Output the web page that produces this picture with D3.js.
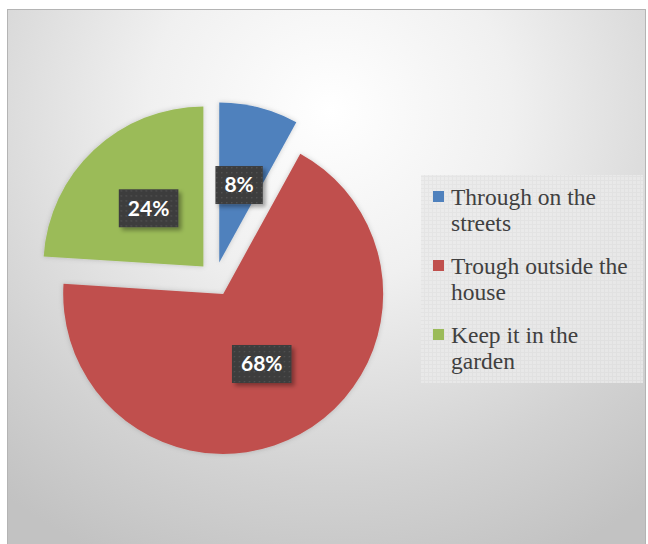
<!DOCTYPE html>
<html>
<head>
<meta charset="utf-8">
<script src="https://cdn.jsdelivr.net/npm/d3@7"></script>
<style>
  html, body { margin: 0; padding: 0; background: #ffffff; }
  svg { display: block; }
</style>
</head>
<body>
<svg id="chart" width="648" height="544"></svg>
<script>
// Where the waste goes
const categories = ["Through on the streets", "Trough outside the house", "Keep it in the garden"];
const shares = [8, 68, 24];
const legendLines = [["Through on the", "streets"], ["Trough outside the", "house"], ["Keep it in the", "garden"]];
const colors = ["#4f81bd", "#c0504d", "#9bbb59"];

const svg = d3.select("#chart");
const defs = svg.append("defs");

// Soft radial backdrop
const bg = defs.append("radialGradient").attr("id", "bgGrad")
  .attr("gradientUnits", "userSpaceOnUse")
  .attr("cx", 330).attr("cy", 110).attr("r", 520)
  .attr("gradientTransform", "translate(330,110) scale(1,0.95) translate(-330,-110)");
bg.append("stop").attr("offset", 0).attr("stop-color", "#ffffff");
bg.append("stop").attr("offset", 0.35).attr("stop-color", "#f0f0f0");
bg.append("stop").attr("offset", 0.75).attr("stop-color", "#d2d2d2");
bg.append("stop").attr("offset", 1).attr("stop-color", "#c2c2c2");

// Dotted texture for the data labels
const dots = defs.append("pattern").attr("id", "dots")
  .attr("patternUnits", "userSpaceOnUse").attr("width", 5).attr("height", 5);
dots.append("rect").attr("width", 5).attr("height", 5).attr("fill", "#3d3d3d");
dots.append("rect").attr("x", 2).attr("y", 2).attr("width", 1.3).attr("height", 1.3).attr("fill", "#555555");

// Fine grid texture for the legend panel
const grid = defs.append("pattern").attr("id", "grid")
  .attr("patternUnits", "userSpaceOnUse").attr("width", 4).attr("height", 4);
grid.append("rect").attr("width", 4).attr("height", 4).attr("fill", "#eaeaea");
grid.append("rect").attr("width", 4).attr("height", 1).attr("fill", "#e2e2e2");
grid.append("rect").attr("width", 1).attr("height", 4).attr("fill", "#e2e2e2");

const shadow = defs.append("filter").attr("id", "sliceShadow")
  .attr("x", "-20%").attr("y", "-20%").attr("width", "140%").attr("height", "140%");
shadow.append("feDropShadow").attr("dx", 0).attr("dy", 0).attr("stdDeviation", 2.5)
  .attr("flood-color", "#000").attr("flood-opacity", 0.18);

const boxShadow = defs.append("filter").attr("id", "boxShadow")
  .attr("x", "-30%").attr("y", "-30%").attr("width", "160%").attr("height", "160%");
boxShadow.append("feDropShadow").attr("dx", 3).attr("dy", 3).attr("stdDeviation", 2)
  .attr("flood-color", "#000").attr("flood-opacity", 0.35);

// Chart area
svg.append("rect").attr("x", 7.5).attr("y", 9.5).attr("width", 638).attr("height", 560)
  .attr("fill", "url(#bgGrad)").attr("stroke", "#b4b4b4").attr("stroke-width", 1);

// Pie
const cx = 215, cy = 279, radius = 160, explode = 17, labelDist = 80;
const pie = d3.pie().sort(null).value(d => d)(shares);
const arc = d3.arc().innerRadius(0).outerRadius(radius);

const g = svg.append("g").attr("transform", `translate(${cx},${cy})`);
const mid = d => (d.startAngle + d.endAngle) / 2;
const dir = (d, r) => [Math.sin(mid(d)) * r, -Math.cos(mid(d)) * r];

g.selectAll("path.slice").data(pie).join("path")
  .attr("class", "slice")
  .attr("d", arc)
  .attr("fill", (d, i) => colors[i])
  .attr("filter", "url(#sliceShadow)")
  .attr("transform", d => `translate(${dir(d, explode)})`);

// Data labels
const labels = g.selectAll("g.lbl").data(pie).join("g")
  .attr("class", "lbl")
  .attr("transform", d => `translate(${dir(d, explode + labelDist)})`);

const boxRect = labels.append("rect").attr("fill", "url(#dots)").attr("filter", "url(#boxShadow)");
const boxText = labels.append("text")
  .attr("text-anchor", "middle").attr("dy", "0.35em")
  .attr("fill", "#ffffff").attr("font-family", "Lato, 'Open Sans', sans-serif")
  .attr("font-weight", "bold").attr("font-size", 21)
  .text(d => d.data + "%");

boxText.each(function () {
  const w = this.getComputedTextLength();
  const rect = d3.select(this.parentNode).select("rect");
  rect.attr("x", -w / 2 - 9).attr("y", -19).attr("width", w + 18).attr("height", 38);
});

// Legend
const lg = svg.append("g");
lg.append("rect").attr("x", 421).attr("y", 175).attr("width", 222).attr("height", 208)
  .attr("fill", "url(#grid)").attr("opacity", 0.85);

const item = lg.selectAll("g.item").data(categories).join("g")
  .attr("class", "item")
  .attr("transform", (d, i) => `translate(433,${205 + i * 69})`);
item.append("rect").attr("x", 0).attr("y", -14).attr("width", 11).attr("height", 11)
  .attr("fill", (d, i) => colors[i]);
item.append("text")
  .attr("font-family", "'Liberation Serif', 'Times New Roman', serif")
  .attr("font-size", 23.5).attr("fill", "#404040")
  .selectAll("tspan").data((d, i) => legendLines[i]).join("tspan")
  .attr("x", 18).attr("dy", (d, j) => j === 0 ? 0 : 26)
  .text(d => d);
</script>
</body>
</html>
